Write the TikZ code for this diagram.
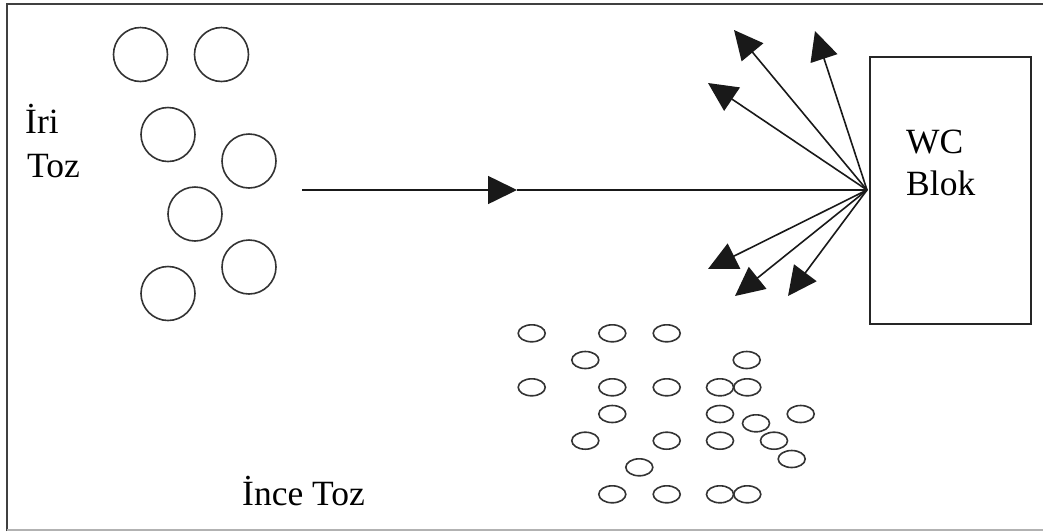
\documentclass[tikz,border=0pt]{standalone}
\usepackage{fontspec}
\setmainfont{Liberation Serif}
\usetikzlibrary{arrows.meta}
\begin{document}
\begin{tikzpicture}[x=1pt,y=-1pt,
  lbl/.style={inner sep=0pt,anchor=base west,font=\fontsize{35.5}{40}\selectfont},
  coarse/.style={draw=black!80,line width=1.6pt},
  fine/.style={draw=black!80,line width=1.6pt},
  flow/.style={draw=black!90,line width=1.6pt,-{Triangle[length=29pt,width=28pt]}},
  plain/.style={draw=black!90,line width=1.6pt}]
\useasboundingbox (0,0) rectangle (1043,531);
\fill[white] (0,0) rectangle (1043,531);
% frame
\draw[black!75,line width=1.8pt] (7,531) -- (7,4) -- (1050,4);
\draw[black!30,line width=1.2pt] (7,530) -- (1050,530);

% coarse powder
\foreach \cx/\cy in {140.5/54.5,221.5/54.5,168/134.5,249/161,195/214,249/267,168/293.5}
  \draw[coarse] (\cx,\cy) circle[radius=27];
\node[lbl] (iri) at (25,133) {İri};
\node[lbl] (toz) at (27,177) {Toz};

% fine powder
\foreach \ex/\ey in {531.7/333.3,612.3/333.3,666.7/333.3,
    585.3/360,746.7/360,
    531.7/387.3,612.3/387.3,666.7/387.3,720/387.3,747.3/387.3,
    612.3/414,720/414,800.7/414,756/423.3,
    585.3/440.7,666.7/440.7,720/440.7,774/440.7,
    791.7/459,639.3/467.3,
    612.3/494.3,666.7/494.3,720/494.3,747.3/494.3}
  \draw[fine] (\ex,\ey) ellipse[x radius=13.5,y radius=8.5];
\node[lbl] (ince) at (242,505) {İnce Toz};

% WC block
\node[draw=black!85,line width=1.7pt,minimum width=161pt,minimum height=267pt,inner sep=0pt,anchor=north west] (blok) at (869,56) {};
\node[lbl] (wc) at (906,153) {WC};
\node[lbl] (bl) at (906,195) {Blok};

% incoming stream
\coordinate (src) at (302,190);
\coordinate (mid) at (517,190);
\coordinate (hit) at (867,190);
\draw[flow] (src) -- (mid);
\draw[plain] (mid) -- (hit);

% scattered particles
\coordinate (t1) at (734,30);
\coordinate (t2) at (815,31);
\coordinate (t3) at (708,83);
\coordinate (t4) at (708,269);
\coordinate (t5) at (735,296);
\coordinate (t6) at (788,296);
\foreach \t in {t1,t2,t3,t4,t5,t6}
  \draw[flow] (hit) -- (\t);
\end{tikzpicture}
\end{document}
